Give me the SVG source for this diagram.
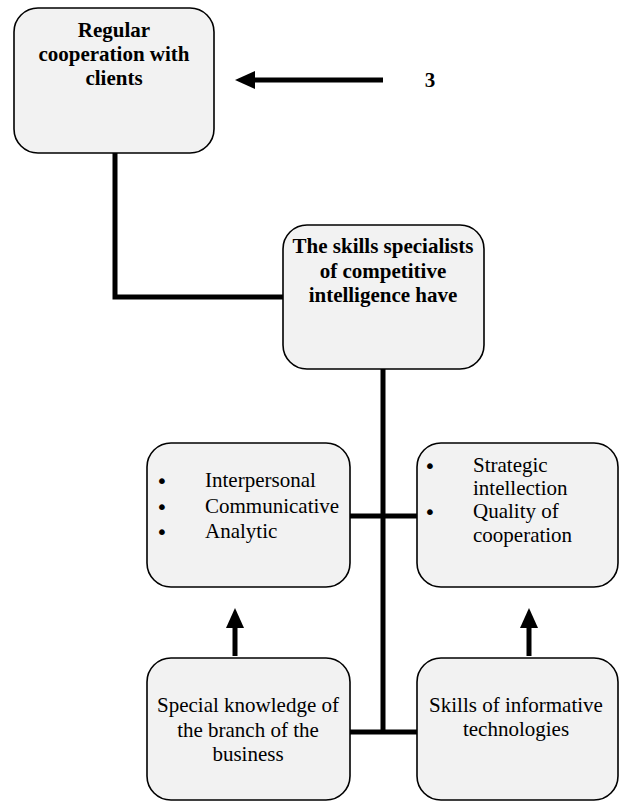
<svg xmlns="http://www.w3.org/2000/svg" width="625" height="803" viewBox="0 0 625 803">
<style>
.box{fill:#f2f2f2;stroke:#000;stroke-width:1.6}
.t{font-family:"Liberation Serif","Times New Roman",serif;font-size:21px;fill:#000}
.b{font-weight:bold}
.c{text-anchor:middle}
.bl{font-family:"DejaVu Sans",sans-serif;font-size:20px;text-anchor:middle;fill:#000}
.ln{fill:none;stroke:#000;stroke-width:5}
</style>
<defs>
<marker id="ah" markerWidth="4" markerHeight="3.6" refX="0.2" refY="1.8" orient="auto" markerUnits="strokeWidth">
<path d="M0,0 L4,1.8 L0,3.6 Z" fill="#000"/>
</marker>
</defs>
<rect width="625" height="803" fill="#fff"/>
<g id="connectors">
<polyline class="ln" points="115,153 115,297 283,297"/>
<line class="ln" x1="383" y1="369" x2="383" y2="734"/>
<line class="ln" x1="350" y1="516" x2="417" y2="516"/>
<line class="ln" x1="350" y1="732" x2="417" y2="732"/>
<line class="ln" x1="383" y1="80" x2="254" y2="80" marker-end="url(#ah)"/>
<line class="ln" x1="235" y1="656" x2="235" y2="627" marker-end="url(#ah)"/>
<line class="ln" x1="529" y1="656" x2="529" y2="627" marker-end="url(#ah)"/>
</g>
<g id="n-clients">
<rect class="box" x="14" y="8" width="200" height="145" rx="24"/>
<text class="t b c" x="114" y="37">Regular</text>
<text class="t b c" x="114" y="61">cooperation with</text>
<text class="t b c" x="114" y="85">clients</text>
</g>
<g id="n-label3">
<text class="t b c" x="430" y="87">3</text>
</g>
<g id="n-skills">
<rect class="box" x="283" y="225" width="201" height="144" rx="24"/>
<text class="t b c" x="383" y="253">The skills specialists</text>
<text class="t b c" x="383" y="278">of competitive</text>
<text class="t b c" x="383" y="302">intelligence have</text>
</g>
<g id="n-interpersonal">
<rect class="box" x="147" y="443" width="203" height="144" rx="24"/>
<text class="bl" x="162" y="488">•</text>
<text class="t" x="205" y="487">Interpersonal</text>
<text class="bl" x="162" y="514">•</text>
<text class="t" x="205" y="513">Communicative</text>
<text class="bl" x="162" y="539">•</text>
<text class="t" x="205" y="538">Analytic</text>
</g>
<g id="n-strategic">
<rect class="box" x="417" y="443" width="201" height="144" rx="24"/>
<text class="bl" x="430" y="473">•</text>
<text class="t" x="473" y="472">Strategic</text>
<text class="t" x="473" y="495">intellection</text>
<text class="bl" x="430" y="519">•</text>
<text class="t" x="473" y="518">Quality of</text>
<text class="t" x="473" y="542">cooperation</text>
</g>
<g id="n-special">
<rect class="box" x="147" y="658" width="203" height="142" rx="24"/>
<text class="t c" x="248" y="712">Special knowledge of</text>
<text class="t c" x="248" y="737">the branch of the</text>
<text class="t c" x="248" y="761">business</text>
</g>
<g id="n-informative">
<rect class="box" x="417" y="658" width="201" height="142" rx="24"/>
<text class="t c" x="516" y="712">Skills of informative</text>
<text class="t c" x="516" y="736">technologies</text>
</g>
</svg>
